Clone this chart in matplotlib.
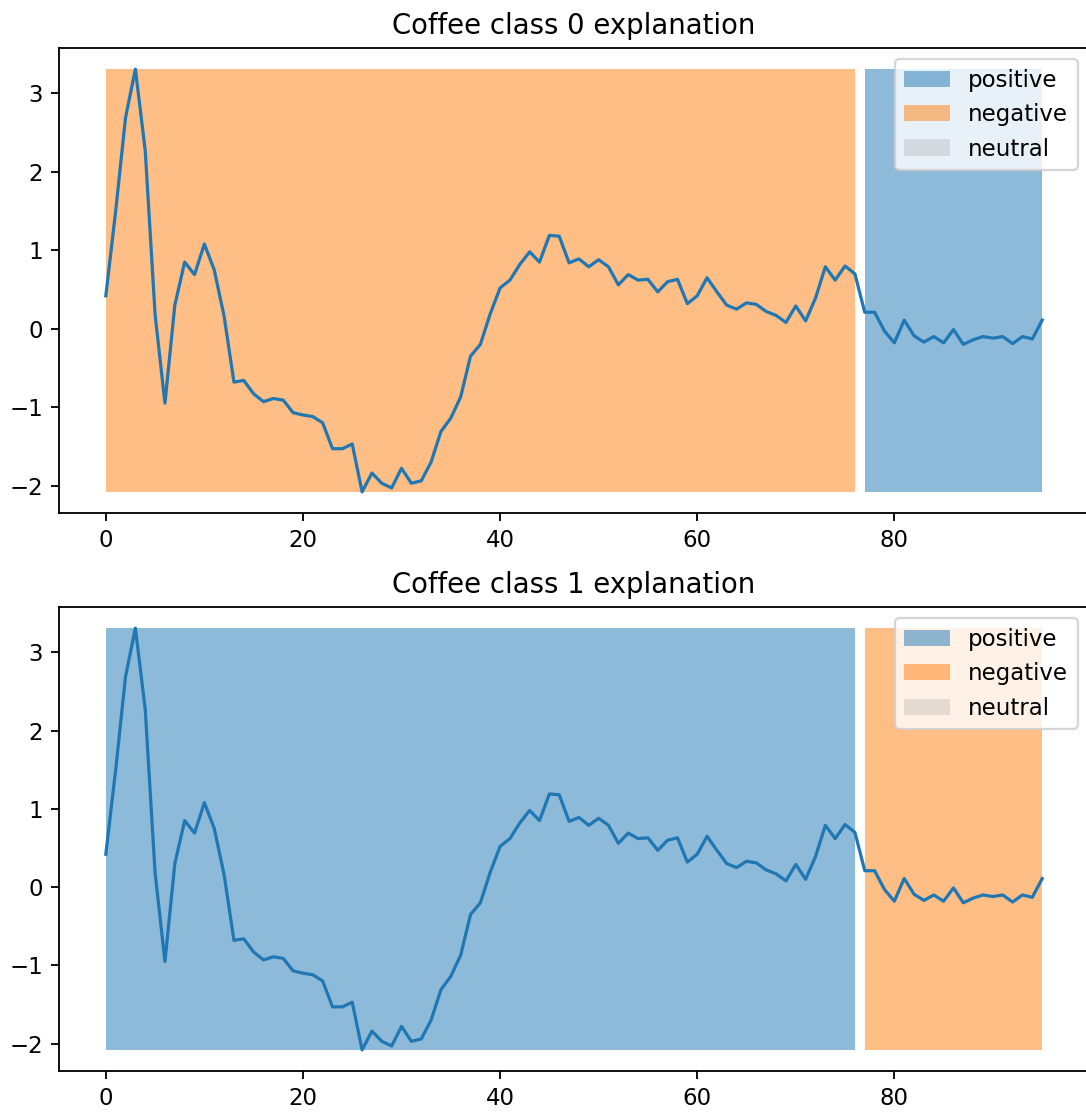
import numpy as np
import matplotlib.pyplot as plt
from matplotlib.patches import Patch

# Coffee series (one sample, 96 points)
series = [
    0.42, 1.50, 2.69, 3.31, 2.27, 0.18, -0.95, 0.30, 0.85, 0.69,
    1.08, 0.75, 0.16, -0.68, -0.66, -0.83, -0.93, -0.89, -0.91, -1.07,
    -1.10, -1.12, -1.20, -1.53, -1.53, -1.47, -2.08, -1.84, -1.97, -2.03,
    -1.78, -1.97, -1.94, -1.70, -1.31, -1.14, -0.87, -0.35, -0.20, 0.19,
    0.52, 0.62, 0.82, 0.98, 0.85, 1.19, 1.18, 0.84, 0.89, 0.79,
    0.88, 0.79, 0.56, 0.69, 0.62, 0.63, 0.47, 0.60, 0.63, 0.32,
    0.42, 0.65, 0.47, 0.30, 0.25, 0.33, 0.31, 0.22, 0.17, 0.08,
    0.29, 0.10, 0.39, 0.79, 0.62, 0.80, 0.70, 0.21, 0.21, -0.03,
    -0.18, 0.11, -0.09, -0.17, -0.10, -0.18, -0.01, -0.20, -0.14, -0.10,
    -0.12, -0.10, -0.19, -0.10, -0.13, 0.11,
]

# segments as (start, end) indices and their attribution per class
segments = [(0, 76), (77, 95)]
class_labels = {
    0: ["negative", "positive"],
    1: ["positive", "negative"],
}

colors = {"positive": "tab:blue", "negative": "tab:orange", "neutral": "grey"}
alphas = {"positive": 0.5, "negative": 0.5, "neutral": 0.2}

y = np.array(series)
x = np.arange(len(y))

DPI = 165
fig = plt.figure(figsize=(1086 / DPI, 1113 / DPI), dpi=DPI)
ax_top = fig.add_axes([59 / 1086, 1 - 513 / 1113, 1030 / 1086, 465 / 1113])
ax_bot = fig.add_axes([59 / 1086, 1 - 1071 / 1113, 1030 / 1086, 464 / 1113])

for ax, cls in [(ax_top, 0), (ax_bot, 1)]:
    ax.plot(x, y, color="tab:blue", linewidth=1.4)
    for (s, e), lab in zip(segments, class_labels[cls]):
        xs = x[s:e + 1]
        ax.fill_between(xs, y.min(), y.max(), color=colors[lab],
                        alpha=alphas[lab], linewidth=0)
    handles = [Patch(facecolor=colors[k], alpha=alphas[k], label=k)
               for k in ["positive", "negative", "neutral"]]
    ax.legend(handles=handles, loc="upper right")
    ax.set_title("Coffee class %d explanation" % cls)
    ax.spines["right"].set_visible(False)  # right edge falls off the canvas

fig.savefig("out.png", dpi=DPI)
